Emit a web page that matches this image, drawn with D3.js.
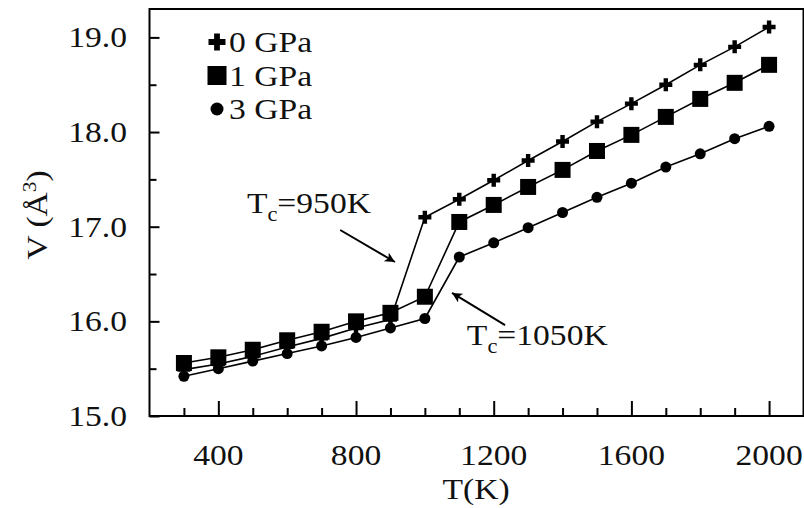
<!DOCTYPE html>
<html>
<head>
<meta charset="utf-8">
<script src="https://cdn.jsdelivr.net/npm/d3@7"></script>
<style>
  body { margin: 0; background: #fff; }
  text { font-family: "Liberation Serif", "Times New Roman", serif; fill: #111; }
</style>
</head>
<body>
<svg id="chart" width="804" height="508"></svg>
<script>
// Temperature grid (K) and cell volume (Å^3) at three pressures
const temperatures = [300, 400, 500, 600, 700, 800, 900, 1000, 1100, 1200, 1300, 1400, 1500, 1600, 1700, 1800, 1900, 2000];
const volume0GPa = [15.49, 15.55, 15.63, 15.73, 15.82, 15.93, 16.02, 17.10, 17.29, 17.49, 17.70, 17.90, 18.11, 18.30, 18.50, 18.71, 18.90, 19.11];
const volume1GPa = [15.56, 15.62, 15.70, 15.80, 15.89, 16.00, 16.09, 16.26, 17.05, 17.23, 17.42, 17.60, 17.80, 17.97, 18.16, 18.35, 18.52, 18.71];
const volume3GPa = [15.42, 15.50, 15.58, 15.66, 15.74, 15.83, 15.93, 16.03, 16.68, 16.83, 16.99, 17.15, 17.31, 17.46, 17.63, 17.77, 17.93, 18.06];
const seriesNames = ["0 GPa", "1 GPa", "3 GPa"];
const seriesSymbols = ["plus", "square", "circle"];

const xMajorTicks = [400, 800, 1200, 1600, 2000];
const xMinorTicks = [300, 500, 600, 700, 900, 1000, 1100, 1300, 1400, 1500, 1700, 1800, 1900];
const yMajorTicks = [15, 16, 17, 18, 19];
const yMinorTicks = [15.5, 16.5, 17.5, 18.5];

// Transition annotations: label anchor, arrow tail and tip (data units)
const annotations = [
  { sub: "c", rest: "=950K", at: [483, 17.145], tail: [754, 16.965], tip: [913, 16.627] },
  { sub: "c", rest: "=1050K", at: [1122, 15.75], tail: [1233, 15.96], tip: [1079, 16.30] }
];

const series = [volume0GPa, volume1GPa, volume3GPa].map((vals, i) => ({
  name: seriesNames[i],
  symbol: seriesSymbols[i],
  points: temperatures.map((t, j) => ({ t, v: vals[j] }))
}));

const svg = d3.select("#chart");
const plotLeft = 149.5, plotRight = 803.5, plotTop = 9, plotBottom = 416;
const x = d3.scaleLinear().domain([200, 2100]).range([plotLeft, plotRight]);
const y = d3.scaleLinear().domain([15, 19.3]).range([plotBottom, plotTop]);
const SX = 1.12; // horizontal stretch of the serif lettering
const FS = 30;

// Frame
svg.append("rect")
  .attr("x", plotLeft).attr("y", plotTop)
  .attr("width", plotRight - plotLeft).attr("height", plotBottom - plotTop)
  .attr("fill", "none").attr("stroke", "#000").attr("stroke-width", 2);

// Inward ticks on bottom and left axes
function tickOnly(axis) { return axis.tickFormat("").tickSizeOuter(0); }
svg.append("g").attr("transform", `translate(0,${plotBottom})`)
  .call(tickOnly(d3.axisBottom(x).tickValues(xMajorTicks).tickSizeInner(-15)));
svg.append("g").attr("transform", `translate(0,${plotBottom})`)
  .call(tickOnly(d3.axisBottom(x).tickValues(xMinorTicks).tickSizeInner(-8)));
svg.append("g").attr("transform", `translate(${plotLeft},0)`)
  .call(tickOnly(d3.axisLeft(y).tickValues(yMajorTicks).tickSizeInner(-10)));
svg.append("g").attr("transform", `translate(${plotLeft},0)`)
  .call(tickOnly(d3.axisLeft(y).tickValues(yMinorTicks).tickSizeInner(-7)));
svg.selectAll(".domain").remove();
svg.selectAll(".tick line").attr("stroke", "#000").attr("stroke-width", 2);

// Stretched text helper
function label(parent, px, py, str, anchor) {
  const g = parent.append("g").attr("transform", `translate(${px},${py}) scale(${SX},1)`);
  return g.append("text").attr("text-anchor", anchor || "start")
    .attr("font-size", FS).text(str);
}

// Tick labels
xMajorTicks.forEach(t => label(svg, x(t), 465, d3.format("d")(t), "middle"));
yMajorTicks.forEach(v => label(svg, 127, y(v) + 10, d3.format(".1f")(v), "end"));

// Axis titles
label(svg, 476, 499, "T(K)", "middle");
const yt = svg.append("g").attr("transform", `translate(47,215) rotate(-90) scale(${SX},1)`)
  .append("text").attr("text-anchor", "middle").attr("font-size", FS);
yt.append("tspan").text("V (Å");
yt.append("tspan").attr("font-size", 19).attr("dy", -11).text("3");
yt.append("tspan").attr("dy", 11).text(")");

// Lines
const line = d3.line().x(d => x(d.t)).y(d => y(d.v));
svg.append("g").selectAll("path").data(series).join("path")
  .attr("d", d => line(d.points))
  .attr("fill", "none").attr("stroke", "#000").attr("stroke-width", 1.6);

// Marker shapes
function drawSymbol(g, kind, cx, cy, s) {
  if (kind === "plus") {
    const a = s / 2, w = s * 0.17;
    g.append("path")
      .attr("d", `M${cx - w},${cy - a}H${cx + w}V${cy - w}H${cx + a}V${cy + w}H${cx + w}V${cy + a}H${cx - w}V${cy + w}H${cx - a}V${cy - w}H${cx - w}Z`)
      .attr("fill", "#000");
  } else if (kind === "square") {
    g.append("rect").attr("x", cx - s / 2).attr("y", cy - s / 2)
      .attr("width", s).attr("height", s).attr("fill", "#000");
  } else {
    g.append("circle").attr("cx", cx).attr("cy", cy).attr("r", s / 2).attr("fill", "#000");
  }
}
const plotSizes = { plus: 13, square: 16, circle: 11 };
const legendSizes = { plus: 17, square: 19, circle: 13 };

series.forEach(s => {
  const g = svg.append("g");
  s.points.forEach(p => drawSymbol(g, s.symbol, x(p.t), y(p.v), plotSizes[s.symbol]));
});

// Legend
const legend = svg.append("g");
series.forEach((s, i) => {
  const cy = 42 + i * 33.5;
  drawSymbol(legend, s.symbol, 217, cy, legendSizes[s.symbol]);
  label(legend, 229, cy + 10, s.name, "start");
});

// Annotations with arrows
svg.append("defs").append("marker")
  .attr("id", "head").attr("viewBox", "0 0 10 10")
  .attr("refX", 10).attr("refY", 5)
  .attr("markerWidth", 14).attr("markerHeight", 10)
  .attr("markerUnits", "userSpaceOnUse")
  .attr("orient", "auto")
  .append("path").attr("d", "M0,0L10,5L0,10L2.5,5Z").attr("fill", "#000");

annotations.forEach(a => {
  svg.append("line")
    .attr("x1", x(a.tail[0])).attr("y1", y(a.tail[1]))
    .attr("x2", x(a.tip[0])).attr("y2", y(a.tip[1]))
    .attr("stroke", "#000").attr("stroke-width", 2)
    .attr("marker-end", "url(#head)");
  const t = label(svg, x(a.at[0]), y(a.at[1]), "", "start");
  t.append("tspan").text("T");
  t.append("tspan").attr("font-size", 20).attr("dy", 8).text(a.sub);
  t.append("tspan").attr("dy", -8).text(a.rest);
});
</script>
</body>
</html>
